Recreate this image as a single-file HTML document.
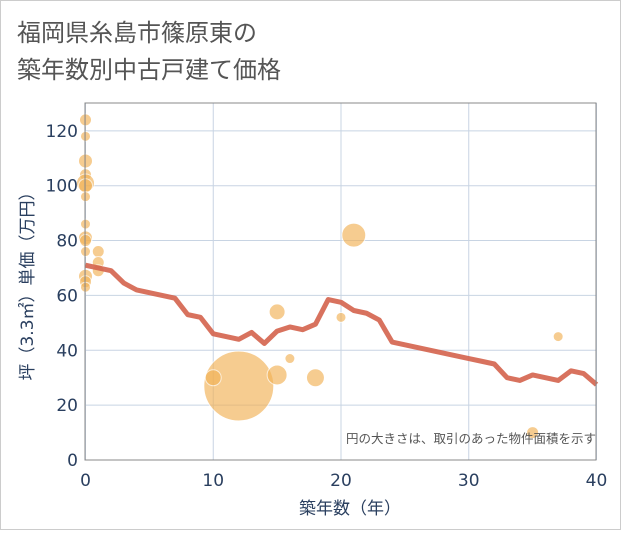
<!DOCTYPE html>
<html><head><meta charset="utf-8"><style>
body{margin:0;background:#fff;font-family:"Liberation Sans","Noto Sans CJK JP",sans-serif}
</style></head><body>
<svg width="621" height="530" xmlns="http://www.w3.org/2000/svg">
<rect x="0.5" y="0.5" width="620" height="529" fill="#fff" stroke="#ccc"/>
<text x="17" y="41" font-size="24" fill="#555" font-family="DejaVu Sans,Noto Sans CJK JP,sans-serif">福岡県糸島市篠原東の</text>
<text x="17" y="78" font-size="24" fill="#555" font-family="DejaVu Sans,Noto Sans CJK JP,sans-serif">築年数別中古戸建て価格</text>
<g id="grid"></g>
<g id="bubbles"></g>
<path id="line" fill="none" stroke="#d4634c" stroke-width="5" stroke-linejoin="round" opacity="0.9"/>
<rect x="85" y="103" width="511" height="357" fill="none" stroke="#888"/>
<g id="ticks"></g>
<text x="596" y="443" text-anchor="end" font-size="12.5" fill="#555" font-family="DejaVu Sans,Noto Sans CJK JP,sans-serif">円の大きさは、取引のあった物件面積を示す</text>
<text x="350" y="514" text-anchor="middle" font-size="17" fill="#2a3f5f" font-family="DejaVu Sans,Noto Sans CJK JP,sans-serif">築年数（年）</text>
<text transform="translate(33,282) rotate(-90)" text-anchor="middle" font-size="17" fill="#2a3f5f" font-family="DejaVu Sans,Noto Sans CJK JP,sans-serif">坪（3.3㎡）単価（万円）</text>
</svg>
<script>
const xTicks=[0,10,20,30,40];
const yTicks=[0,20,40,60,80,100,120];
const lineX=[0,1,2,3,4,5,6,7,8,9,10,11,12,13,14,15,16,17,18,19,20,21,22,23,24,25,26,27,28,29,30,31,32,33,34,35,36,37,38,39,40];
const lineY=[71,70,69,64.5,62,61,60,59,53,52,46,45,44,46.5,42.5,47,48.5,47.5,49.5,58.5,57.5,54.5,53.5,51,43,42,41,40,39,38,37,36,35,30,29,31,30,29,32.5,31.5,27.5];
const bubX=[12,0,0,0,0,0,0,0,0,0,0,0,0,0,0,1,1,1,10,15,15,16,18,20,21,35,37];
const bubY=[27,124,118,109,104,101,100,96,86,81,80,76,67,65,63,76,72,69,30,54,31,37,30,52,82,10,45];
const bubR=[35,6,5,7,6,9,7,5,5,7,6,5,7,6,5,6,6,6,8,8,10,5,9,5,12,6,5];
const sx=v=>85.5+v*12.775, sy=v=>460-v*2.743;
const ns="http://www.w3.org/2000/svg";
const g=document.getElementById('grid'), t=document.getElementById('ticks'), b=document.getElementById('bubbles');
function mk(tag,attrs,parent){const e=document.createElementNS(ns,tag);for(const k in attrs)e.setAttribute(k,attrs[k]);parent.appendChild(e);return e;}
xTicks.forEach(v=>{
 const l=mk('line',{x1:sx(v),x2:sx(v),y1:103,y2:460,stroke:'#c8d4e3'},g);
 
 
 const tx=mk('text',{x:sx(v),y:486,'text-anchor':'middle','font-size':17,fill:'#2a3f5f','font-family':'DejaVu Sans,sans-serif'},t);
 tx.textContent=v;
 
 
});
yTicks.forEach(v=>{
 const l=mk('line',{x1:85,x2:596,y1:sy(v),y2:sy(v),stroke:'#c8d4e3'},g);
 
 
 const tx=mk('text',{x:78,y:sy(v)+6,'text-anchor':'end','font-size':17,fill:'#2a3f5f','font-family':'DejaVu Sans,sans-serif'},t);
 tx.textContent=v;
 
 
});
bubX.forEach((x,i)=>{
 const c=mk('circle',{cx:sx(x),cy:sy(bubY[i]),r:bubR[i],fill:'#f2b256',opacity:0.65,stroke:'#fff','stroke-width':1},b);
 
 
});
document.getElementById('line').setAttribute('d',lineX.map((x,i)=>(i?'L':'M')+sx(x)+','+sy(lineY[i])).join(''));
</script>
</body></html>
